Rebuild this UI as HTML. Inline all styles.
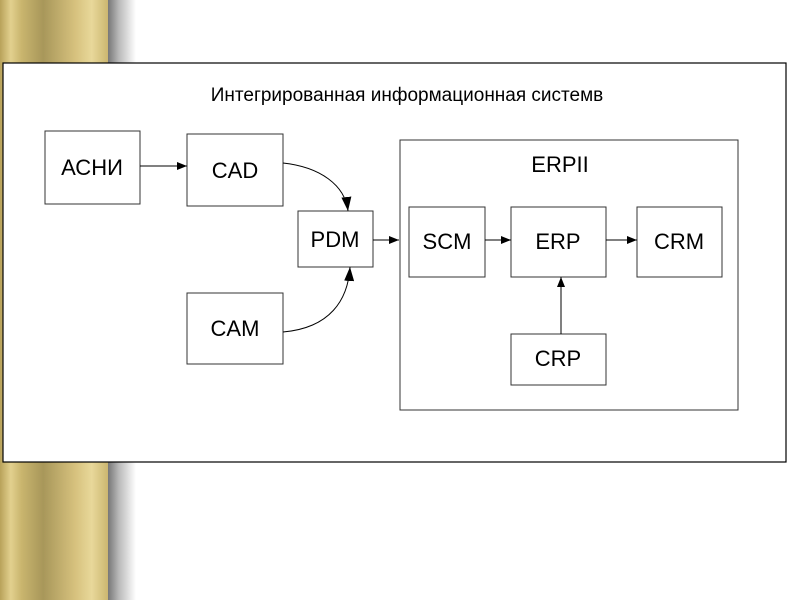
<!DOCTYPE html>
<html><head><meta charset="utf-8"><style>
body{margin:0;width:800px;height:600px;overflow:hidden;background:#fff;position:relative;font-family:"Liberation Sans",sans-serif}
.col{position:absolute;left:0;top:0;width:108px;height:600px;background:linear-gradient(90deg,#b8a25a 0%,#e2d08e 10%,#c9b56e 20%,#a8975a 40%,#d7c27e 70%,#e8d89a 85%,#cbb670 100%)}
.sh{position:absolute;left:108px;top:0;width:28px;height:600px;background:linear-gradient(90deg,#777,#bbb 40%,#fff)}
</style></head><body>
<div class="col"></div><div class="sh"></div>
<svg width="800" height="600" style="position:absolute;left:0;top:0" font-family="Liberation Sans, sans-serif">
<defs><marker id="a" markerWidth="10" markerHeight="8" refX="10" refY="4" orient="auto" markerUnits="userSpaceOnUse"><path d="M0,0L10,4L0,8z" fill="#000"/></marker>
<marker id="b" markerWidth="14" markerHeight="10" refX="14" refY="5" orient="auto" markerUnits="userSpaceOnUse"><path d="M0,0L14,5L0,10z" fill="#000"/></marker></defs>
<rect x="3" y="63" width="783" height="399" fill="#fff" stroke="#000" stroke-width="1.2"/>
<text x="407" y="101" font-size="19" text-anchor="middle">Интегрированная информационная системв</text>
<g fill="#fff" stroke="#333" stroke-width="1">
<rect x="45" y="131" width="95" height="73"/>
<rect x="187" y="134" width="96" height="72"/>
<rect x="298" y="211" width="75" height="56"/>
<rect x="187" y="293" width="96" height="71"/>
<rect x="400" y="140" width="338" height="270"/>
<rect x="409" y="207" width="76" height="70"/>
<rect x="511" y="207" width="95" height="70"/>
<rect x="637" y="207" width="85" height="70"/>
<rect x="511" y="334" width="95" height="51"/>
</g>
<g font-size="22" text-anchor="middle">
<text x="92" y="175">АСНИ</text>
<text x="235" y="178">CAD</text>
<text x="335" y="247">PDM</text>
<text x="235" y="336">CAM</text>
<text x="560" y="172">ERPII</text>
<text x="447" y="249">SCM</text>
<text x="558" y="249">ERP</text>
<text x="679" y="249">CRM</text>
<text x="558" y="366">CRP</text>
</g>
<g stroke="#000" fill="none" stroke-width="1">
<line x1="140" y1="166" x2="187" y2="166" marker-end="url(#a)"/>
<path d="M283,163 C320,167 345,185 348,211" marker-end="url(#b)"/>
<path d="M283,332 C330,328 348,300 350,267" marker-end="url(#b)"/>
<line x1="373" y1="240" x2="399" y2="240" marker-end="url(#a)"/>
<line x1="485" y1="240" x2="511" y2="240" marker-end="url(#a)"/>
<line x1="606" y1="240" x2="637" y2="240" marker-end="url(#a)"/>
<line x1="561" y1="334" x2="561" y2="277" marker-end="url(#a)"/>
</g>
</svg>
</body></html>
